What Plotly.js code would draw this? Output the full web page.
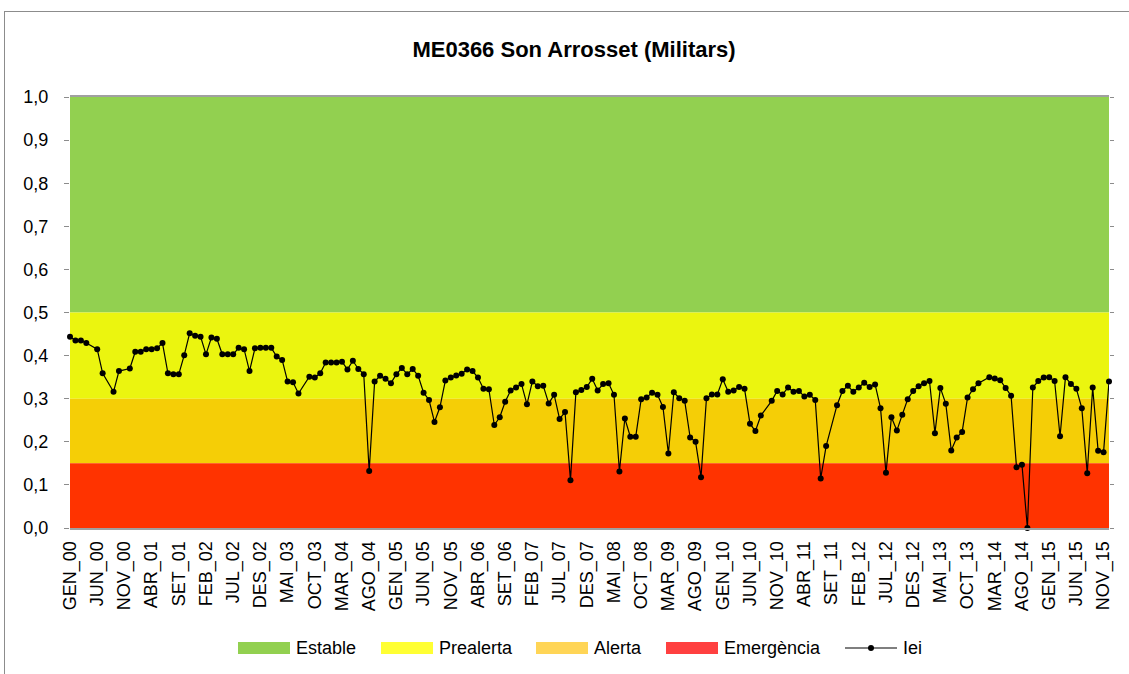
<!DOCTYPE html>
<html>
<head>
<meta charset="utf-8">
<script src="https://cdn.plot.ly/plotly-3.0.1.min.js"></script>
<style>
  html, body { margin: 0; padding: 0; background: #fff; overflow: hidden; }
  #chart { position: absolute; left: 0; top: 0; width: 1129px; height: 674px; }
  #frame { position: absolute; left: 4px; top: 11px; width: 1140px; height: 700px;
           border-left: 1px solid #8c8c8c; border-top: 1px solid #8c8c8c; pointer-events: none; }
</style>
</head>
<body>
<div id="chart"></div>
<div id="frame"></div>
<script>
// ---- data ----
const months = ['GEN','FEB','MAR','ABR','MAI','JUN','JUL','AGO','SET','OCT','NOV','DES'];
const years = ['00','01','02','03','04','05','06','07','08','09','10','11','12','13','14','15'];

const iei = [
  0.444, 0.435, 0.435, 0.429, null,  0.415, 0.359, null,  0.316, 0.364, null,  0.370,
  0.409, 0.409, 0.415, 0.415, 0.417, 0.429, 0.359, 0.357, 0.357, 0.401, 0.452, 0.446,
  0.444, 0.403, 0.442, 0.439, 0.403, 0.403, 0.403, 0.418, 0.415, 0.364, 0.417, 0.418,
  0.418, 0.418, 0.398, 0.390, 0.340, 0.338, 0.312, null,  0.351, 0.349, 0.359, 0.384,
  0.384, 0.384, 0.386, 0.368, 0.388, 0.369, 0.357, 0.132, 0.340, 0.353, 0.346, 0.336,
  0.357, 0.371, 0.357, 0.369, 0.353, 0.314, 0.297, 0.246, 0.280, 0.342, 0.349, 0.354,
  0.358, 0.368, 0.364, 0.349, 0.323, 0.322, 0.239, 0.257, 0.293, 0.319, 0.326, 0.334,
  0.287, 0.340, 0.329, 0.330, 0.289, 0.309, 0.253, 0.269, 0.111, 0.315, 0.320, 0.327,
  0.346, 0.319, 0.334, 0.336, 0.309, 0.131, 0.254, 0.212, 0.212, 0.299, 0.303, 0.314,
  0.309, 0.281, 0.173, 0.315, 0.301, 0.295, 0.210, 0.200, 0.118, 0.301, 0.310, 0.310,
  0.345, 0.316, 0.319, 0.327, 0.323, 0.242, 0.225, 0.261, null,  0.295, 0.318, 0.310,
  0.326, 0.316, 0.318, 0.305, 0.309, 0.297, 0.115, 0.190, null,  0.285, 0.318, 0.330,
  0.316, 0.326, 0.337, 0.327, 0.333, 0.278, 0.128, 0.257, 0.226, 0.263, 0.299, 0.318,
  0.329, 0.336, 0.341, 0.220, 0.325, 0.288, 0.180, 0.210, 0.223, 0.303, 0.322, 0.336,
  null,  0.350, 0.347, 0.343, 0.325, 0.307, 0.141, 0.147, 0.000, 0.326, 0.341, 0.349,
  0.350, 0.341, 0.213, 0.350, 0.334, 0.323, 0.278, 0.127, 0.326, 0.179, 0.176, 0.340
];

const bandNames  = ['Estable', 'Prealerta', 'Alerta', 'Emergència'];
const bandLower  = [0.5, 0.3, 0.15, 0.0];
const bandUpper  = [1.0, 0.5, 0.3, 0.15];
const seriesName = 'Iei';
const chartTitle = 'ME0366 Son Arrosset (Militars)';

// ---- styles ----
const bandColors   = ['#92D050', '#EBF50F', '#F5CE06', '#FF3300'];
const legendColors = ['#92D050', '#FFFF33', '#FFD556', '#FF4040'];
const FONT = 'Liberation Sans, Arial, Helvetica, sans-serif';

const categories = [];
years.forEach(y => months.forEach(m => categories.push(m + '_' + y)));
const tickVals = categories.filter((c, i) => i % 5 === 0);

// pixel helpers for the plot box
const W = 1129, H = 674;
const M = { l: 70, r: 20, t: 97, b: 146 };
const PW = W - M.l - M.r, PH = H - M.t - M.b;
const px = x => (x - M.l) / PW;
const py = y => (H - M.b - y) / PH;

const shapes = [];
bandNames.forEach((n, i) => {
  shapes.push({ type: 'rect', xref: 'paper', yref: 'y', x0: 0, x1: 1,
    y0: bandLower[i], y1: bandUpper[i], fillcolor: bandColors[i],
    line: { width: 0 }, layer: 'below' });
});

// manual legend
const legY = 648;
const swatchX = [238, 381, 536, 666];
const textX   = [294, 437, 592, 722];
const annotations = [];
bandNames.forEach((n, i) => {
  shapes.push({ type: 'rect', xref: 'paper', yref: 'paper',
    x0: px(swatchX[i]), x1: px(swatchX[i] + 52), y0: py(legY - 6), y1: py(legY + 6),
    fillcolor: legendColors[i], line: { width: 0 } });
  annotations.push({ xref: 'paper', yref: 'paper', x: px(textX[i]), y: py(legY),
    xanchor: 'left', yanchor: 'middle', text: n, showarrow: false,
    font: { family: FONT, size: 18, color: '#000' } });
});
shapes.push({ type: 'line', xref: 'paper', yref: 'paper',
  x0: px(845), x1: px(897), y0: py(legY), y1: py(legY), line: { color: '#000', width: 1.2 } });
shapes.push({ type: 'circle', xref: 'paper', yref: 'paper',
  x0: px(868), x1: px(874), y0: py(legY + 3), y1: py(legY - 3),
  fillcolor: '#000', line: { color: '#000', width: 0 } });
annotations.push({ xref: 'paper', yref: 'paper', x: px(901), y: py(legY),
  xanchor: 'left', yanchor: 'middle', text: seriesName, showarrow: false,
  font: { family: FONT, size: 18, color: '#000' } });

const traces = [
  { type: 'scatter', mode: 'lines+markers', name: seriesName,
    x: categories, y: iei, connectgaps: true, cliponaxis: false,
    line: { color: '#000', width: 1.2 },
    marker: { color: '#000', size: 6 }, showlegend: false },
  { type: 'scatter', x: [], y: [], yaxis: 'y2', showlegend: false, hoverinfo: 'skip' }
];

const layout = {
  width: W, height: H,
  margin: M,
  paper_bgcolor: '#fff', plot_bgcolor: '#fff',
  separators: ',.',
  showlegend: false,
  font: { family: FONT, size: 18, color: '#000' },
  title: { text: chartTitle, xref: 'container', yref: 'container',
    x: 574 / W, xanchor: 'center', y: 1 - 49 / H, yanchor: 'middle',
    font: { family: FONT, size: 22, color: '#000', weight: 700 } },
  xaxis: { type: 'category', categoryorder: 'array', categoryarray: categories,
    range: [0, categories.length - 1],
    tickmode: 'array', tickvals: tickVals, ticktext: tickVals,
    tickangle: -90, ticks: '', ticklabelstandoff: 4,
    tickfont: { family: FONT, size: 18, color: '#000' },
    showgrid: false, zeroline: false,
    showline: true, mirror: true, linecolor: '#a0a0a0', linewidth: 2 },
  yaxis: { range: [0, 1], tickmode: 'linear', tick0: 0, dtick: 0.1, tickformat: '.1f',
    ticks: 'outside', ticklen: 5, tickcolor: '#8c8c8c', tickwidth: 1,
    ticklabelstandoff: 12,
    tickfont: { family: FONT, size: 18, color: '#000' },
    showgrid: false, zeroline: false, showline: false },
  yaxis2: { overlaying: 'y', side: 'right', anchor: 'x', range: [0, 1],
    tickmode: 'linear', tick0: 0, dtick: 0.1, ticks: 'outside', ticklen: 4,
    tickcolor: '#8c8c8c', showticklabels: false,
    showgrid: false, zeroline: false, showline: false },
  shapes: shapes,
  annotations: annotations
};

Plotly.newPlot('chart', traces, layout, { staticPlot: true, displayModeBar: false });
</script>
</body>
</html>
